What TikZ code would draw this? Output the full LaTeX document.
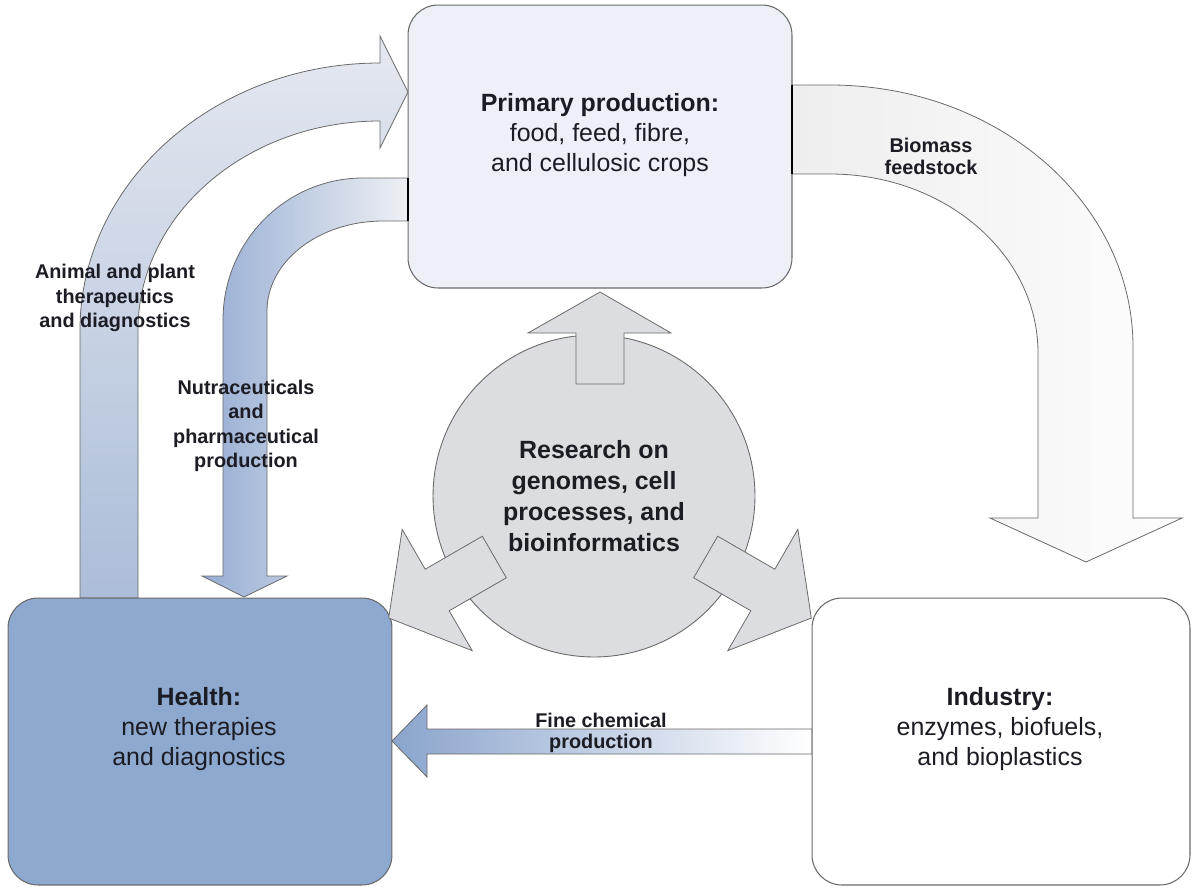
\documentclass[tikz,border=0pt]{standalone}
\usepackage{fontspec}
\setmainfont{Liberation Sans}
\definecolor{edgegray}{RGB}{105,105,105}
\definecolor{inktext}{RGB}{28,28,36}
\definecolor{primfill}{RGB}{238,240,248}
\definecolor{healthfill}{RGB}{142,169,207}
\definecolor{resfill}{RGB}{220,221,224}
\definecolor{animtop}{RGB}{228,232,240}
\definecolor{animbot}{RGB}{172,189,216}
\definecolor{nutleft}{RGB}{150,173,211}
\definecolor{nutright}{RGB}{238,240,244}
\definecolor{bioleft}{RGB}{238,238,238}
\definecolor{bioright}{RGB}{253,253,253}
\definecolor{chemleft}{RGB}{138,164,204}
\tikzset{box/.style={draw=edgegray, line width=0.6pt, rounded corners=0.6cm, minimum width=7.68cm, minimum height=5.74cm},
  boxtext/.style={align=center, text=inktext, font=\fontsize{14.2}{17}\selectfont},
  rescircle/.style={circle, draw=edgegray, line width=0.5pt, fill=resfill, minimum size=6.44cm, align=center, text=inktext, font=\fontsize{14.2}{17.6}\selectfont\bfseries},
  flowtext/.style={align=center, text=inktext, font=\fontsize{11.3}{13.9}\selectfont\bfseries},
  bigarrow/.style={draw=edgegray, line width=0.45pt},
  resarrow/.style={draw=edgegray, line width=0.45pt, fill=resfill},}

\begin{document}
\begin{tikzpicture}[x=0.02cm, y=-0.02cm]
        \useasboundingbox (0,0) rectangle (1192,893);

        % flows between the sectors
        \draw[bigarrow, top color=animtop, bottom color=animbot]
              (80,598) -- (80,330) arc[start angle=180, end angle=270, x radius=300, y radius=267]
              -- (380,36) -- (408,92) -- (380,148) -- (380,121)
              arc[start angle=270, end angle=180, x radius=242, y radius=209] -- (138,598) -- cycle;
        \draw[bigarrow, left color=nutleft, right color=nutright]
              (408,178) -- (363,178) arc[start angle=270, end angle=180, x radius=140, y radius=142]
              -- (223,576) -- (202,576) -- (244,597) -- (287,576) -- (267,576) -- (267,311)
              arc[start angle=180, end angle=270, x radius=116, y radius=90] -- (408,221) -- cycle;
        \draw[bigarrow, left color=bioleft, right color=bioright]
              (792,85) -- (830,85) arc[start angle=270, end angle=360, x radius=303, y radius=262]
              -- (1133,518) -- (1182,518) -- (1086,562) -- (990,518) -- (1038,518) -- (1038,353)
              arc[start angle=0, end angle=-90, x radius=208, y radius=179] -- (792,174) -- cycle;
        \draw[bigarrow, left color=chemleft, right color=white]
              (812,729) -- (427,729) -- (427,705) -- (392,741) -- (427,777) -- (427,754) -- (812,754) -- cycle;

        % sectors
        \node[box, fill=primfill, minimum height=5.66cm] (prim) at (600,146.5) {};
        \node[box, fill=healthfill] (health) at (200,741.5) {};
        \node[box, fill=white, minimum width=7.56cm] (industry) at (1001,741.5) {};
        \draw[line width=1pt] (408,178) -- (408,221);
        \draw[line width=1pt] (792,85) -- (792,174);

        % research hub
        \node[rescircle] (res) at (594,496) {Research on\\genomes, cell\\processes, and\\bioinformatics};
        \draw[resarrow] (576,384) -- (576,333) -- (528,333) -- (600,292) -- (671,333) -- (624,333) -- (624,384) -- cycle;
        \begin{scope}[rotate around={120:(600,496)}]
            \draw[resarrow] (576,374) -- (576,308) -- (530,308) -- (600,252) -- (670,308) -- (624,308) -- (624,374) -- cycle;
        \end{scope}
        \begin{scope}[rotate around={-120:(600,496)}]
            \draw[resarrow] (576,374) -- (576,308) -- (530,308) -- (600,252) -- (670,308) -- (624,308) -- (624,374) -- cycle;
        \end{scope}

        % labels
        \node[boxtext] (primtext) at (600,135) {\textbf{Primary production:}\\food, feed, fibre,\\and cellulosic crops};
        \node[boxtext] (healthtext) at (199,729) {\textbf{Health:}\\new therapies\\and diagnostics};
        \node[boxtext] (industrytext) at (1000,729) {\textbf{Industry:}\\enzymes, biofuels,\\and bioplastics};
        \node[flowtext] (animtext) at (115,298) {Animal and plant\\therapeutics\\and diagnostics};
        \node[flowtext] (nuttext) at (246,426) {Nutraceuticals\\and\\pharmaceutical\\production};
        \node[flowtext, font=\fontsize{11.3}{12.6}\selectfont\bfseries] (biotext) at (931,156) {Biomass\\feedstock};
        \node[flowtext, font=\fontsize{11.3}{11.6}\selectfont\bfseries] (chemtext) at (601,733) {Fine chemical\\production};
\end{tikzpicture}
\end{document}
